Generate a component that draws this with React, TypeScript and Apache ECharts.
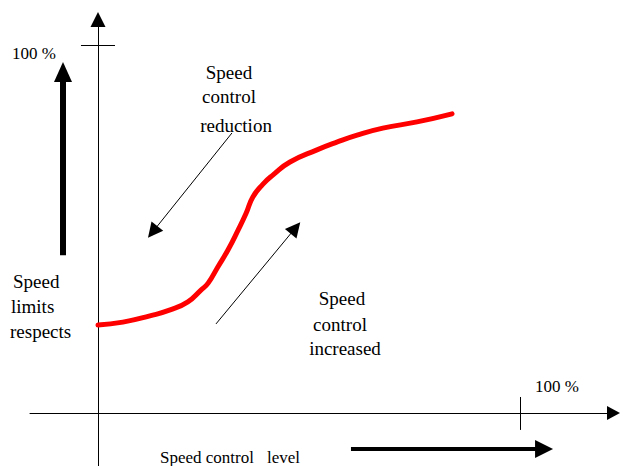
import React, { useEffect, useRef } from "react";
import * as echarts from "echarts";

// S-curve: speed-limit respect (y, %) versus speed-control level (x, %)
const curveX = [0, 5.9, 12.3, 17.1, 21.3, 24.4, 26.1, 28.4, 30.8, 33.2, 35.1, 36.7, 39.1, 41.5, 45.5, 51.9, 56.6, 61.4, 67.5, 75.6, 83.9];
const curveY = [23.9, 24.7, 26.4, 28.0, 30.2, 33.4, 35.3, 39.7, 44.3, 49.7, 54.3, 58.7, 62.2, 64.7, 68.2, 71.5, 73.6, 75.5, 77.4, 79.1, 81.3];

// axis extents (in %), the 100 % marks
const xRange = [-16.11, 122.16];
const yRange = [-14.4, 106.93];
const fullMark = 100;

// annotation arrows: [tailX, tailY, headX, headY]
const reductionArrow = [31.75, 76.1, 12.96, 49.2];
const increasedArrow = [27.96, 24.2, 46.8, 50.3];
const yTrendArrow = [-8.29, 42.9, -8.29, 92.66];
const xTrendArrow = [59.95, -9.78, 105.7, -9.78];

// annotation texts
const labelTexts = ["100 %", "Speed", "control", "reduction", "Speed", "limits", "respects", "Speed", "control", "increased", "100 %", "Speed control", "level"];

const FONT = "Liberation Serif";

export default function App() {
  const ref = useRef<HTMLDivElement>(null);
  useEffect(() => {
    if (!ref.current) return;
    const chart = echarts.init(ref.current, undefined, { renderer: "svg" });
    // position / size / alignment per label, y = vertical middle of the line
    const layout: [number, number, number, string][] = [
      [12, 53.3, 17, "left"],
      [229, 72.6, 19, "center"],
      [229, 96.6, 19, "center"],
      [236, 125.3, 19, "center"],
      [13, 281.6, 19, "left"],
      [11, 306.3, 19, "left"],
      [10, 331, 19, "left"],
      [342, 298.6, 19, "center"],
      [340, 324.3, 19, "center"],
      [345, 348.6, 19, "center"],
      [535, 386, 17, "left"],
      [160, 457.6, 17, "left"],
      [267, 457.6, 17, "left"],
    ];
    const titles = labelTexts.map((t, i) => {
      const [x, y, size, align] = layout[i];
      return {
        text: t,
        left: x,
        top: y - size / 2,
        padding: 0,
        itemGap: 0,
        textAlign: align,
        textStyle: { fontFamily: FONT, fontSize: size, fontWeight: "normal", color: "#000", lineHeight: size },
      };
    });
    const seg = (a: number[]) => [{ coord: [a[0], a[1]] }, { coord: [a[2], a[3]] }];
    chart.setOption({
      animation: false,
      textStyle: { fontFamily: FONT },
      title: titles,
      grid: { left: 30, right: 9.5, top: 19.5, bottom: 0, containLabel: false },
      xAxis: {
        type: "value",
        min: xRange[0],
        max: xRange[1],
        axisLine: { show: true, onZero: true, symbol: ["none", "triangle"], symbolSize: [14, 13], lineStyle: { color: "#000", width: 1 } },
        axisTick: { show: false },
        axisLabel: { show: false },
        splitLine: { show: false },
      },
      yAxis: {
        type: "value",
        min: yRange[0],
        max: yRange[1],
        axisLine: { show: true, onZero: true, symbol: ["none", "triangle"], symbolSize: [15, 15], lineStyle: { color: "#000", width: 1 } },
        axisTick: { show: false },
        axisLabel: { show: false },
        splitLine: { show: false },
      },
      series: [
        {
          type: "line",
          data: curveX.map((x, i) => [x, curveY[i]]),
          smooth: 0.5,
          showSymbol: false,
          silent: true,
          lineStyle: { color: "#ff0000", width: 5, cap: "round", join: "round" },
          z: 5,
        },
        {
          type: "line",
          data: [],
          markLine: {
            silent: true,
            symbol: ["none", "none"],
            label: { show: false },
            lineStyle: { color: "#000", width: 1, type: "solid" },
            data: [
              [{ coord: [fullMark, -4.6] }, { coord: [fullMark, 4.35] }],
              [{ coord: [-4.03, fullMark] }, { coord: [4.03, fullMark] }],
            ],
          },
        },
        {
          type: "line",
          data: [],
          markLine: {
            silent: true,
            symbol: ["none", "triangle"],
            symbolSize: [15, 15],
            label: { show: false },
            lineStyle: { color: "#000", width: 1, type: "solid" },
            data: [seg(reductionArrow), seg(increasedArrow)],
          },
        },
        {
          type: "line",
          data: [],
          markLine: {
            silent: true,
            symbol: ["none", "triangle"],
            symbolSize: [18, 20],
            label: { show: false },
            lineStyle: { color: "#000", width: 6, type: "solid" },
            data: [seg(yTrendArrow)],
          },
        },
        {
          type: "line",
          data: [],
          markLine: {
            silent: true,
            symbol: ["none", "triangle"],
            symbolSize: [18, 18],
            label: { show: false },
            lineStyle: { color: "#000", width: 4, type: "solid" },
            data: [seg(xTrendArrow)],
          },
        },
      ],
    });
    return () => chart.dispose();
  }, []);
  return (
    <div
      ref={ref}
      style={{ position: "fixed", left: 0, top: 0, width: 623, height: 466, background: "#fff" }}
    />
  );
}
